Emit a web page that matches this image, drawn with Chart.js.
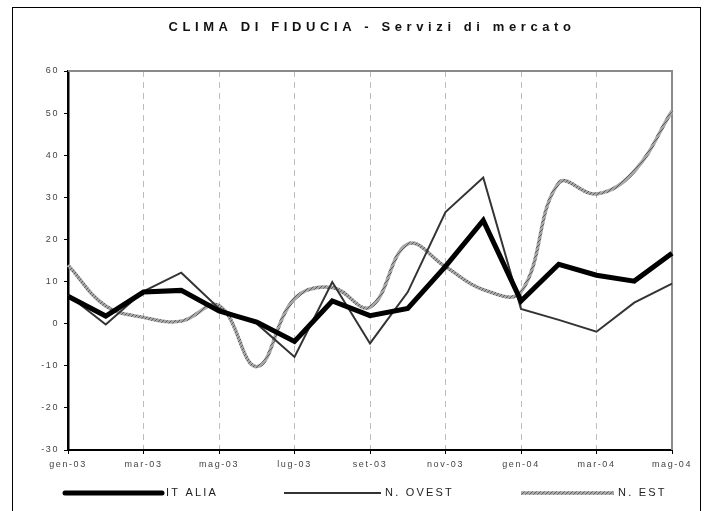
<!DOCTYPE html>
<html>
<head>
<meta charset="utf-8">
<script src="https://cdn.jsdelivr.net/npm/chart.js@4/dist/chart.umd.min.js"></script>
<style>
  html, body { margin: 0; padding: 0; background: #fff; }
  #wrap { width: 704px; height: 511px; }
</style>
</head>
<body>
<div id="wrap"><canvas id="chart" width="704" height="511"></canvas></div>
<script>
const months = ['gen-03', 'feb-03', 'mar-03', 'apr-03', 'mag-03', 'giu-03', 'lug-03', 'ago-03', 'set-03',
  'ott-03', 'nov-03', 'dic-03', 'gen-04', 'feb-04', 'mar-04', 'apr-04', 'mag-04']
const italia = [6.5, 1.8, 7.5, 7.9, 3.0, 0.4, -4.2, 5.4, 1.9, 3.6, 13.6, 24.5, 5.4, 14.1, 11.5, 10.1, 16.7]
const nOvest = [6.8, -0.2, 7.7, 12.1, 3.6, 0.0, -7.9, 9.9, -4.7, 7.5, 26.5, 34.7, 3.5, 0.9, -1.9, 5.0, 9.5]
const nEst = [13.9, 4.2, 1.5, 0.6, 4.3, -10.2, 5.9, 8.6, 3.9, 18.9, 13.5, 8.1, 7.5, 33.4, 30.8, 36.2, 50.5]
const seriesNames = ['IT ALIA', 'N. OVEST', 'N. EST']
const titleText = 'CLIMA DI FIDUCIA - Servizi di mercato'

// hatched grey stroke for the N.EST line
function makeHatch () {
  const c = document.createElement('canvas')
  c.width = 4
  c.height = 4
  const g = c.getContext('2d')
  g.fillStyle = '#a6a6a6'
  g.fillRect(0, 0, 4, 4)
  g.fillStyle = '#5e5e5e'
  for (let i = 0; i < 4; i++) g.fillRect(i, 3 - i, 1, 1)
  return g.createPattern(c, 'repeat')
}
const hatch = makeHatch()

const spacing = {
  id: 'spacing',
  beforeLayout (chart) { chart.ctx.letterSpacing = '1.6px' },
  beforeDraw (chart) { chart.ctx.letterSpacing = '1.6px' }
}

// frame, plot border on top/right, title and legend
const decor = {
  id: 'decor',
  beforeDatasetsDraw (chart) {
    const { ctx, chartArea: a } = chart
    ctx.save()
    ctx.strokeStyle = '#8a8a8a'
    ctx.lineWidth = 2
    ctx.beginPath()
    ctx.moveTo(a.left, a.top)
    ctx.lineTo(a.right, a.top)
    ctx.lineTo(a.right, a.bottom)
    ctx.stroke()
    ctx.restore()
  },
  afterDraw (chart) {
    const { ctx, chartArea: a } = chart
    ctx.save()
    ctx.strokeStyle = '#000'
    ctx.lineWidth = 1
    ctx.strokeRect(12.5, 7.5, 688, 600)

    ctx.letterSpacing = '4.6px'
    ctx.font = 'bold 13px "Liberation Sans", Arial, sans-serif'
    ctx.fillStyle = '#111'
    ctx.textAlign = 'center'
    ctx.textBaseline = 'middle'
    ctx.fillText(titleText, (a.left + a.right) / 2 + 2, 27)

    const spots = [[65, 162], [284, 381], [521, 614]]
    ctx.letterSpacing = '2.2px'
    ctx.font = '11px "Liberation Sans", Arial, sans-serif'
    ctx.textAlign = 'left'
    chart.data.datasets.forEach((ds, i) => {
      const [x1, x2] = spots[i]
      ctx.beginPath()
      ctx.strokeStyle = ds.borderColor
      ctx.lineWidth = ds.borderWidth
      ctx.lineCap = i === 0 ? 'round' : 'butt'
      ctx.moveTo(x1, 493)
      ctx.lineTo(x2, 493)
      ctx.stroke()
      ctx.fillStyle = '#222'
      ctx.fillText(ds.label, x2 + 4, 493)
    })
    ctx.restore()
  }
}

const tickFont = { family: '"Liberation Sans", Arial, sans-serif', size: 9 }

new Chart(document.getElementById('chart'), {
  type: 'line',
  data: {
    labels: months,
    datasets: [
      { label: seriesNames[0], data: italia, borderColor: '#000', borderWidth: 5, tension: 0, pointRadius: 0, borderJoinStyle: 'miter' },
      { label: seriesNames[1], data: nOvest, borderColor: '#333', borderWidth: 2, tension: 0, pointRadius: 0 },
      { label: seriesNames[2], data: nEst, borderColor: hatch, borderWidth: 3.5, tension: 0.4, pointRadius: 0 }
    ]
  },
  options: {
    responsive: false,
    animation: false,
    layout: { padding: { top: 71, right: 32, bottom: 0, left: 0 } },
    plugins: { legend: { display: false }, title: { display: false }, tooltip: { enabled: false } },
    scales: {
      x: {
        offset: false,
        afterFit (scale) { scale.height = 61 },
        grid: {
          color: c => (c.index % 2 === 0 && c.index > 0 && c.index < months.length - 1) ? '#bdbdbd' : 'rgba(0,0,0,0)',
          tickColor: c => c.index % 2 === 0 ? '#000' : 'rgba(0,0,0,0)',
          tickLength: 4,
          lineWidth: 1
        },
        border: { color: '#000', width: 2, dash: [6, 5] },
        ticks: {
          autoSkip: false,
          maxRotation: 0,
          padding: 5,
          color: '#444',
          font: tickFont,
          callback: (v, i) => i % 2 === 0 ? months[i] : ''
        }
      },
      y: {
        min: -30,
        max: 60,
        afterFit (scale) { scale.width = 68 },
        grid: { drawOnChartArea: false, tickLength: 4, tickColor: '#000' },
        border: { color: '#000', width: 2.5 },
        ticks: { stepSize: 10, padding: 5, color: '#444', font: tickFont }
      }
    }
  },
  plugins: [spacing, decor]
})
</script>
</body>
</html>
